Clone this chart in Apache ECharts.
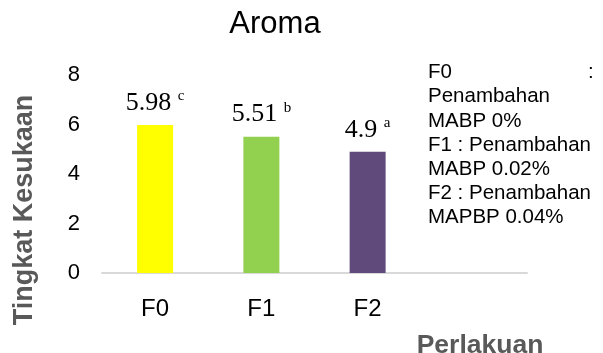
<!DOCTYPE html>
<html>
<head>
<meta charset="utf-8">
<script src="https://cdn.jsdelivr.net/npm/echarts@6/dist/echarts.min.js"></script>
<style>
html,body{margin:0;padding:0;background:#fff;}
#chart{width:603px;height:353px;}
</style>
</head>
<body>
<div id="chart"></div>
<script>
var categories = ['F0', 'F1', 'F2', ''];
var values = [5.98, 5.51, 4.9, null];
var letters = ['c', 'b', 'a', ''];
var barColors = ['#FFFF00', '#92D050', '#604A7B', '#ffffff'];
var yTicks = [0, 2, 4, 6, 8];
var titleText = 'Aroma';
var yName = 'Tingkat Kesukaan';
var xName = 'Perlakuan';
var noteLines = ['F0 :', 'Penambahan', 'MABP 0%', 'F1 : Penambahan', 'MABP 0.02%', 'F2 : Penambahan', 'MAPBP 0.04%'];

var chart = echarts.init(document.getElementById('chart'));

var sans = '"Liberation Sans", Arial, sans-serif';
var serif = '"Liberation Serif", "Times New Roman", serif';

var seriesData = values.map(function (v, i) {
  return { value: v, itemStyle: { color: barColors[i] } };
});

var noteGraphics = [];
var lineH = 24.2;
var noteTop = 62;
var noteFont = '20.5px ' + sans;
noteLines.forEach(function (line, i) {
  if (i === 0) {
    var parts = line.split(' :');
    noteGraphics.push({ type: 'text', left: 428, top: noteTop, style: { text: parts[0], font: noteFont, fill: '#000' } });
    noteGraphics.push({ type: 'text', left: 588, top: noteTop, style: { text: ':', font: noteFont, fill: '#000' } });
  } else {
    noteGraphics.push({ type: 'text', left: 428, top: noteTop + i * lineH, style: { text: line, font: noteFont, fill: '#000' } });
  }
});

var option = {
  animation: false,
  backgroundColor: '#ffffff',
  title: {
    text: titleText,
    left: 270,
    textAlign: 'center',
    top: 4,
    textStyle: { fontFamily: sans, fontSize: 31, fontWeight: 'normal', color: '#000' }
  },
  grid: { left: 102, right: 76, top: 75, bottom: 80, containLabel: false, outerBoundsMode: 'none' },
  xAxis: {
    type: 'category',
    data: categories,
    axisLine: { lineStyle: { color: '#D9D9D9', width: 2 } },
    axisTick: { show: false },
    axisLabel: { fontFamily: sans, fontSize: 24, color: '#000', margin: 24 },
    name: xName,
    nameLocation: 'end',
    nameGap: -47,
    nameTextStyle: { fontFamily: sans, fontSize: 26.5, fontWeight: 'bold', color: '#595959', align: 'center', verticalAlign: 'top', padding: [59, 0, 0, 0] }
  },
  yAxis: {
    type: 'value',
    min: yTicks[0],
    max: yTicks[yTicks.length - 1],
    interval: 2,
    splitLine: { show: false },
    axisLine: { show: false },
    axisTick: { show: false },
    axisLabel: { fontFamily: sans, fontSize: 22, color: '#000', margin: 22 },
    name: yName,
    nameLocation: 'middle',
    nameGap: 64,
    nameTextStyle: { fontFamily: sans, fontSize: 27, fontWeight: 'bold', color: '#595959', padding: [0, 72, 0, 0] }
  },
  series: [{
    type: 'bar',
    data: seriesData,
    barWidth: 36,
    label: {
      show: true,
      position: 'top',
      distance: 8,
      formatter: function (p) {
        if (p.value == null) return '';
        return '{v|' + p.value + ' }{s|' + letters[p.dataIndex] + '}';
      },
      rich: {
        v: { fontFamily: serif, fontSize: 26, color: '#000', lineHeight: 28 },
        s: { fontFamily: serif, fontSize: 15, color: '#000', verticalAlign: 'top', lineHeight: 28 }
      }
    }
  }],
  graphic: noteGraphics
};
chart.setOption(option);
</script>
</body>
</html>
